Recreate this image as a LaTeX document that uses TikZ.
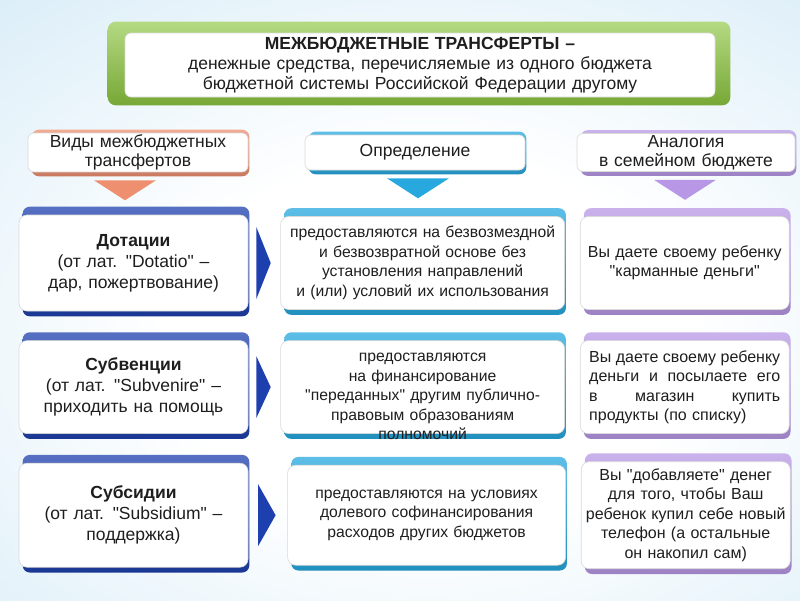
\documentclass[tikz,border=0pt]{standalone}
\usepackage{fontspec}
\setmainfont{Liberation Sans}
\usetikzlibrary{positioning,calc}
\definecolor{bgblue}{HTML}{B7DCF1}
\definecolor{leaf}{HTML}{8CC53F}
\definecolor{navy}{HTML}{1E40AE}
\definecolor{sky}{HTML}{27A9DF}
\definecolor{lilac}{HTML}{B898E6}
\definecolor{salmon}{HTML}{EE8F70}
\definecolor{ink}{HTML}{1E1E1E}
\pgfdeclarelayer{bg}
\pgfdeclarelayer{tube}
\pgfsetlayers{bg,tube,main}
\pgfdeclareradialshading{glow}{\pgfpoint{0bp}{0bp}}{color(0bp)=(white); color(12bp)=(white);
  color(32bp)=(bgblue!55!white); color(50bp)=(bgblue)}
% coloured band behind a card: node, colour, top, bottom
\newcommand\tube[4]{\shade[top color=#2!75!white,bottom color=#2!85!black,rounded corners=7pt]
  ($(#1.north west)+(4,-#3)$) rectangle ($(#1.south east)+(1,#4)$);}
\newcommand\qt[1]{\textquotedbl#1\textquotedbl}
\newcommand\jline[1]{\leavevmode\hbox to 191pt{#1}}

\begin{document}
\begin{tikzpicture}[x=1pt,y=-1pt,
  card/.style={fill=white,draw=black!15,line width=0.6pt,rounded corners=8pt,align=center,
    inner xsep=3pt,inner ysep=2pt,text=ink},
  kind/.style={card,text width=223pt,font=\fontsize{17.5}{21}\selectfont},
  defn/.style={card,text width=278pt,minimum height=93pt,font=\fontsize{15.7}{19.5}\selectfont},
  fam/.style={card,text width=203pt,minimum height=93pt,font=\fontsize{16}{19.5}\selectfont},
  head/.style={card,rounded corners=6pt,minimum height=35pt,font=\fontsize{17.5}{18.5}\selectfont}]
  \useasboundingbox (0,0) rectangle (800,600);
  \begin{pgfonlayer}{bg}
    \fill[bgblue] (0,0) rectangle (800,600);
    \begin{scope}
      \clip (0,0) rectangle (800,600);
      \shade[shading=glow] (-120,-40) rectangle (980,720);
    \end{scope}
  \end{pgfonlayer}

  % title
  \node[card,rounded corners=6pt,minimum height=64pt,text width=584pt,
    font=\fontsize{17.5}{20}\selectfont] (top) at (420,65)
    {\textbf{МЕЖБЮДЖЕТНЫЕ ТРАНСФЕРТЫ –}\\денежные средства, перечисляемые из одного бюджета\\бюджетной системы Российской Федерации другому};

  % column heads
  \node[head,text width=214pt] (hkind) at (138,152.5) {Виды межбюджетных\\трансфертов};
  \node[head,text width=214pt] (hdefn) at (415,152.5) {Определение};
  \node[head,text width=212pt] (hfam) at (686,152.5) {Аналогия\\в семейном бюджете};

  % rows
  \node[kind,minimum height=96pt] (dot) at (133.5,263) {\textbf{Дотации}\\(от лат. \qt{Dotatio} –\\дар, пожертвование)};
  \node[defn,right=32pt of dot] (dotdef) {предоставляются на безвозмездной\\и безвозвратной основе без\\установления направлений\\и (или) условий их использования};
  \node[fam,right=15pt of dotdef] (dotfam) {Вы даете своему ребенку\\\qt{карманные деньги}};

  \node[kind,minimum height=93pt,below=29pt of dot] (sub) {\textbf{Субвенции}\\(от лат. \qt{Subvenire} –\\приходить на помощь};
  \node[defn,right=32pt of sub] (subdef) {\raisebox{-13pt}[0pt][0pt]{\parbox{278pt}{\centering предоставляются\\на финансирование\\\qt{переданных} другим публично-\\правовым образованиям\\полномочий}}};
  \node[fam,right=15pt of subdef] (subfam) {\jline{Вы\hfill даете\hfill своему\hfill ребенку}\\\jline{деньги\hfill и\hfill посылаете\hfill его}\\\jline{в\hfill магазин\hfill купить}\\\jline{продукты (по списку)\hfill}};

  \node[kind,minimum height=104pt,below=29pt of sub] (subs) {\textbf{Субсидии}\\(от лат. \qt{Subsidium} –\\поддержка)};
  \node[defn,text width=272pt,minimum height=100pt,right=39pt of subs] (subsdef) {предоставляются на условиях\\долевого софинансирования\\расходов других бюджетов};
  \node[fam,minimum height=107pt,right=15pt of subsdef] (subsfam) {Вы \qt{добавляете} денег\\для того, чтобы Ваш\\ребенок купил себе новый\\телефон (а остальные\\он накопил сам)};

  \begin{pgfonlayer}{tube}
    \shade[top color=leaf!65!white,bottom color=leaf!85!black,rounded corners=8pt]
      ($(top.north west)+(-17,-11)$) rectangle ($(top.south east)+(15,8)$);
    \foreach \n/\c in {hkind/salmon,hdefn/sky,hfam/lilac} \tube{\n}{\c}{3}{4};
    \foreach \n/\c in {dot/navy,sub/navy,subs/navy,dotdef/sky,subdef/sky,subsdef/sky,
      dotfam/lilac,subfam/lilac,subsfam/lilac} \tube{\n}{\c}{8}{5};
  \end{pgfonlayer}

  % pointers
  \foreach \n/\c/\s in {hkind/salmon/-13,hdefn/sky/3,hfam/lilac/-1}
    \fill[\c] ($(\n.south)+(\s-31,8)$) -- ($(\n.south)+(\s+31,8)$) -- ($(\n.south)+(\s,28)$) -- cycle;
  \foreach \a/\b/\h in {dot/dotdef/36,sub/subdef/31,subs/subsdef/31}
    \fill[navy] ($(\a.east)!0.25!(\b.west)+(0,-\h)$) -- ($(\a.east)!0.7!(\b.west)$)
      -- ($(\a.east)!0.25!(\b.west)+(0,\h)$) -- cycle;
\end{tikzpicture}
\end{document}
